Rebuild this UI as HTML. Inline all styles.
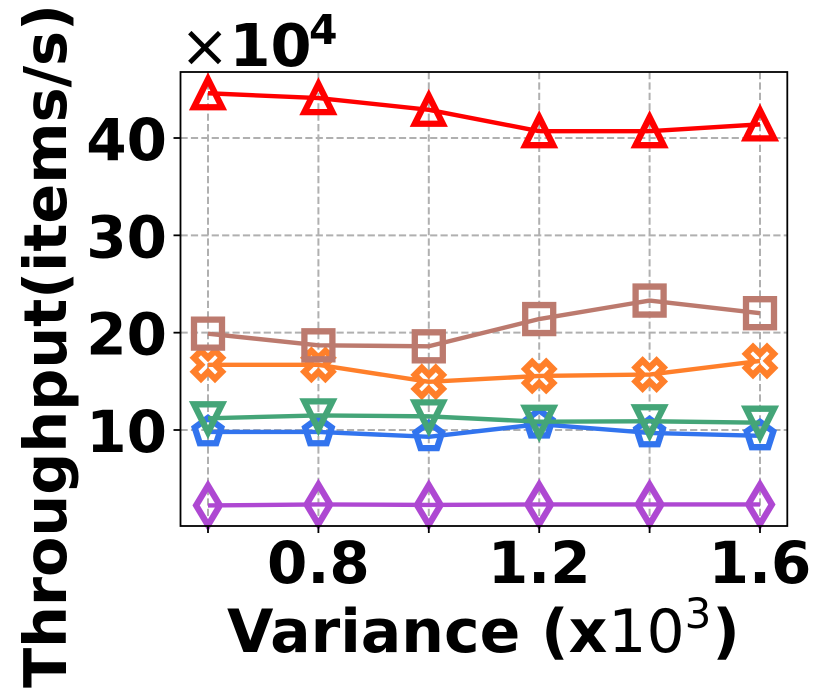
<!DOCTYPE html>
<html lang="en">
<head>
<meta charset="utf-8">
<title>Throughput vs Variance</title>
<style>
html,body{margin:0;padding:0;background:#fff;width:830px;height:692px;overflow:hidden}
svg{display:block}
text{font-family:"DejaVu Sans","Liberation Sans",sans-serif;fill:#000}
.b{font-weight:700}
</style>
</head>
<body>
<svg id="chart" xmlns="http://www.w3.org/2000/svg" width="830" height="692" viewBox="0 0 830 692">
  <rect x="0" y="0" width="830" height="692" fill="#fff"/>
  <g id="grid"></g>
  <g id="series"></g>
  <rect x="180.5" y="72" width="606.8" height="454" fill="none" stroke="#000" stroke-width="1.8"/>
  <g id="ticks"></g>
  <text y="66"><tspan x="180" font-size="59">×</tspan><tspan x="229.5" class="b" font-size="59">10</tspan><tspan x="309" y="44" class="b" font-size="41">4</tspan></text>
  <text y="652" font-size="60"><tspan x="227" class="b">Variance (x</tspan><tspan dx="1">10</tspan><tspan dy="-24" font-size="42">3</tspan><tspan dx="1" dy="24" class="b">)</tspan></text>
  <text class="b" font-size="58.8" text-anchor="middle" transform="translate(66 346) rotate(-90)">Throughput(items/s)</text>
</svg>
<script>
var xValues = [0.6, 0.8, 1.0, 1.2, 1.4, 1.6];
var xTickValues = [0.8, 1.2, 1.6];
var xGridValues = [0.6, 0.8, 1.0, 1.2, 1.4, 1.6];
var xTickLabels = ["0.8", "1.2", "1.6"];
var yTickValues = [10, 20, 30, 40];
var yTickLabels = ["10", "20", "30", "40"];
var blueValues = [9.8, 9.8, 9.3, 10.6, 9.7, 9.4];
var orangeValues = [16.7, 16.7, 14.95, 15.55, 15.7, 17.1];
var greenValues = [11.2, 11.5, 11.4, 10.85, 10.9, 10.75];
var redValues = [44.6, 44.1, 42.9, 40.7, 40.7, 41.4];
var purpleValues = [2.25, 2.35, 2.3, 2.35, 2.35, 2.35];
var brownValues = [19.9, 18.7, 18.6, 21.4, 23.3, 22.0];

var NS = 'http://www.w3.org/2000/svg';
var left = 180.5, right = 787.3, top_ = 72, bottom = 526;
function xScale(v) { return 208 + (v - 0.6) * 552; }
function yScale(v) { return 430 - (v - 10) * 9.733; }
function make(tag, attrs, parent) {
  var el = document.createElementNS(NS, tag);
  for (var k in attrs) el.setAttribute(k, attrs[k]);
  parent.appendChild(el);
  return el;
}
var S = 14;
function poly(cx, cy, pts) {
  return pts.map(function (p) { return (cx + p[0]).toFixed(2) + ',' + (cy + p[1]).toFixed(2); }).join(' ');
}
var shapes = {
  pentagon: function () {
    var out = [];
    for (var i = 0; i < 5; i++) {
      var a = -Math.PI / 2 + i * 2 * Math.PI / 5;
      out.push([S * Math.cos(a), S * Math.sin(a)]);
    }
    return out;
  },
  x: function () {
    var u = S / 2;
    return [[-1,-2],[0,-1],[1,-2],[2,-1],[1,0],[2,1],[1,2],[0,1],[-1,2],[-2,1],[-1,0],[-2,-1]].map(function (p) { return [p[0] * u, p[1] * u]; });
  },
  triDown: function () { return [[0, S], [-S, -S], [S, -S]]; },
  triUp: function () { return [[0, -S], [-S, S], [S, S]]; },
  diamond: function () { var d = S * Math.SQRT2; return [[0, -d], [d * 0.6, 0], [0, d], [-d * 0.6, 0]]; },
  square: function () { return [[-S, -S], [S, -S], [S, S], [-S, S]]; }
};

var gridG = document.getElementById('grid');
xGridValues.forEach(function (v) {
  var l = make('line', {x1: xScale(v), x2: xScale(v), y1: top_, y2: bottom, stroke: '#b0b0b0', 'stroke-width': 2, 'stroke-dasharray': '7.2 3.2'}, gridG);
  
  
});
yTickValues.forEach(function (v) {
  var l = make('line', {x1: left, x2: right, y1: yScale(v), y2: yScale(v), stroke: '#b0b0b0', 'stroke-width': 2, 'stroke-dasharray': '7.2 3.2'}, gridG);
  
  
});

function drawSeries(name, values, color, shape) {
  var g = make('g', {fill: 'none', stroke: color}, document.getElementById('series'));
  
  
  var pts = values.map(function (v, i) { return xScale(xValues[i]).toFixed(2) + ',' + yScale(v).toFixed(2); }).join(' ');
  var line = make('polyline', {points: pts, 'stroke-width': 4.4, 'stroke-linejoin': 'round', 'stroke-linecap': 'butt'}, g);
  
  
  values.forEach(function (v, i) {
    var m = make('polygon', {points: poly(xScale(xValues[i]), yScale(v), shapes[shape]()), 'stroke-width': 6.3, 'stroke-linejoin': 'miter', 'stroke-miterlimit': 10}, g);
    
    
  });
}
drawSeries('blue', blueValues, '#3274ee', 'pentagon');
drawSeries('orange', orangeValues, '#ff7f2a', 'x');
drawSeries('green', greenValues, '#44a578', 'triDown');
drawSeries('red', redValues, '#ff0000', 'triUp');
drawSeries('purple', purpleValues, '#ae48d2', 'diamond');
drawSeries('brown', brownValues, '#bc7a6e', 'square');

var ticksG = document.getElementById('ticks');
xGridValues.forEach(function (v) {
  var t = make('line', {x1: xScale(v), x2: xScale(v), y1: bottom, y2: bottom + 7, stroke: '#000', 'stroke-width': 1.8}, ticksG);
  
  
});
xTickValues.forEach(function (v, i) {
  var t = make('text', {x: xScale(v), y: 583, 'font-size': 58, 'font-weight': 700, 'text-anchor': 'middle'}, ticksG);
  t.textContent = xTickLabels[i];
  
  
});
yTickValues.forEach(function (v, i) {
  var t = make('line', {x1: left - 7, x2: left, y1: yScale(v), y2: yScale(v), stroke: '#000', 'stroke-width': 1.8}, ticksG);
  
  
  var l = make('text', {x: 167, y: yScale(v) + 22, 'font-size': 58, 'font-weight': 700, 'text-anchor': 'end'}, ticksG);
  l.textContent = yTickLabels[i];
  
  
});
</script>
</body>
</html>
